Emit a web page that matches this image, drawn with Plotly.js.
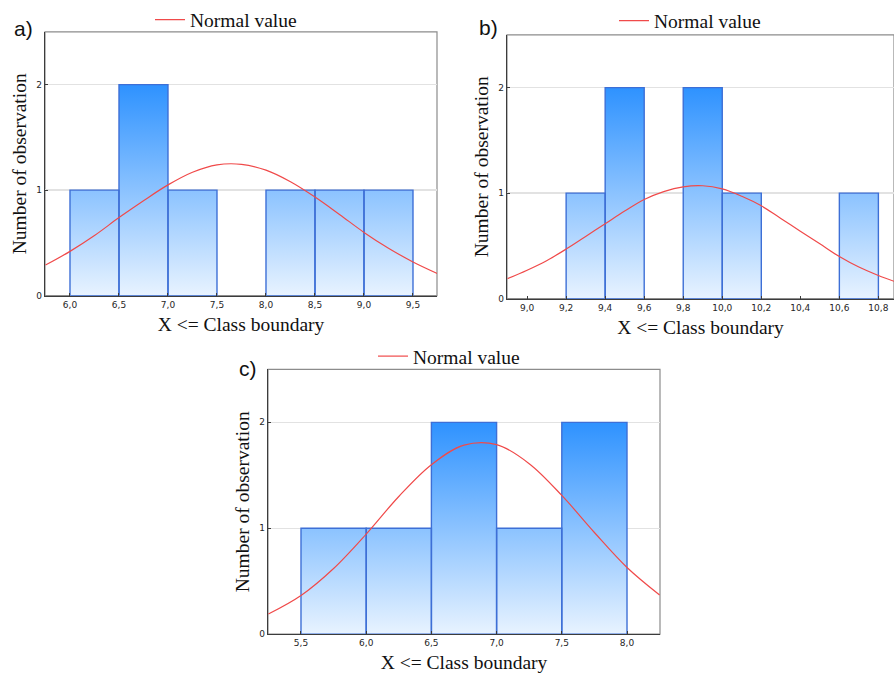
<!DOCTYPE html>
<html>
<head>
<meta charset="utf-8">
<script src="https://cdn.plot.ly/plotly-3.0.1.min.js"></script>
<style>html,body{margin:0;padding:0;background:#fff;}#chart{width:894px;height:679px;}</style>
</head>
<body>
<div id="chart"></div>
<script>
// ---- Data ----
const edgesA = [6.0, 6.5, 7.0, 7.5, 8.0, 8.5, 9.0, 9.5];
const countsA = [1, 2, 1, 0, 1, 1, 1];
const normXA = [5.75, 6.0, 6.25, 6.5, 6.75, 7.0, 7.25, 7.5, 7.75, 8.0, 8.25, 8.5, 8.75, 9.0, 9.25, 9.5, 9.75];
const normYA = [0.29, 0.42, 0.57, 0.74, 0.90, 1.05, 1.17, 1.24, 1.245, 1.19, 1.08, 0.935, 0.77, 0.60, 0.45, 0.32, 0.21];
const ticksA = [6.0, 6.5, 7.0, 7.5, 8.0, 8.5, 9.0, 9.5];
const tickTextA = ['6,0', '6,5', '7,0', '7,5', '8,0', '8,5', '9,0', '9,5'];

const edgesB = [9.2, 9.4, 9.6, 9.8, 10.0, 10.2, 10.4, 10.6, 10.8];
const countsB = [1, 2, 0, 2, 1, 0, 0, 1];
const normXB = [8.9, 9.0, 9.1, 9.2, 9.3, 9.4, 9.5, 9.6, 9.7, 9.8, 9.9, 10.0, 10.1, 10.2, 10.3, 10.4, 10.5, 10.6, 10.7, 10.8, 10.88];
const normYB = [0.19, 0.27, 0.36, 0.47, 0.59, 0.71, 0.83, 0.94, 1.015, 1.06, 1.07, 1.04, 0.97, 0.88, 0.76, 0.64, 0.52, 0.40, 0.30, 0.22, 0.165];
const ticksB = [9.0, 9.2, 9.4, 9.6, 9.8, 10.0, 10.2, 10.4, 10.6, 10.8];
const tickTextB = ['9,0', '9,2', '9,4', '9,6', '9,8', '10,0', '10,2', '10,4', '10,6', '10,8'];

const edgesC = [5.5, 6.0, 6.5, 7.0, 7.5, 8.0];
const countsC = [1, 1, 2, 1, 2];
const normXC = [5.25, 5.5, 5.75, 6.0, 6.25, 6.5, 6.75, 7.0, 7.25, 7.5, 7.75, 8.0, 8.25];
const normYC = [0.19, 0.365, 0.62, 0.945, 1.30, 1.60, 1.785, 1.79, 1.61, 1.31, 0.96, 0.63, 0.37];
const ticksC = [5.5, 6.0, 6.5, 7.0, 7.5, 8.0];
const tickTextC = ['5,5', '6,0', '6,5', '7,0', '7,5', '8,0'];

const yTicks = [0, 1, 2];
const legendName = 'Normal value';

// ---- Helpers ----
function barPolys(edges, counts) {
  const xs = [], ys = [];
  for (let i = 0; i < counts.length; i++) {
    if (counts[i] <= 0) continue;
    const l = edges[i], r = edges[i + 1], c = counts[i];
    xs.push(l, l, r, r, l, null);
    ys.push(0, c, c, 0, 0, null);
  }
  return {x: xs, y: ys};
}

const gradScale = [[0, 'rgb(232,243,255)'], [1, 'rgb(46,146,255)']];
const barLine = {color: '#3d6fd6', width: 1.4};
const curveLine = {color: '#f04a4a', width: 1.2, shape: 'spline'};

function barTrace(edges, counts, xa, ya) {
  const p = barPolys(edges, counts);
  return {
    type: 'scatter', mode: 'lines', x: p.x, y: p.y, xaxis: xa, yaxis: ya,
    fill: 'toself', line: barLine, hoverinfo: 'skip', showlegend: false,
    fillgradient: {type: 'vertical', colorscale: gradScale, start: 0, stop: 2}
  };
}
function curveTrace(xs, ys, xa, ya, leg) {
  return {
    type: 'scatter', mode: 'lines', x: xs, y: ys, xaxis: xa, yaxis: ya,
    line: curveLine, name: legendName, legend: leg, showlegend: true
  };
}

const data = [
  barTrace(edgesA, countsA, 'x', 'y'),
  curveTrace(normXA, normYA, 'x', 'y', 'legend'),
  barTrace(edgesB, countsB, 'x2', 'y2'),
  curveTrace(normXB, normYB, 'x2', 'y2', 'legend2'),
  barTrace(edgesC, countsC, 'x3', 'y3'),
  curveTrace(normXC, normYC, 'x3', 'y3', 'legend3')
];

const W = 894, H = 679;
const tickFont = {family: 'DejaVu Sans', size: 9, color: '#262626'};
const titleFont = {family: 'Liberation Serif', size: 19.5, color: '#111'};

function xAxis(dom, range, tv, tt, anchor) {
  return {
    domain: dom, range: range, anchor: anchor, tickvals: tv, ticktext: tt,
    showgrid: false, zeroline: false, showline: true, linecolor: '#3c3c3c', linewidth: 1.2,
    ticks: 'inside', ticklen: 3, tickcolor: '#3c3c3c', tickfont: tickFont,
    title: {text: 'X &lt;= Class boundary', font: titleFont, standoff: 8}
  };
}
function yAxis(dom, anchor) {
  return {
    domain: dom, range: [0, 2.5], anchor: anchor, tickvals: yTicks, ticktext: yTicks.map(String),
    showgrid: true, gridcolor: '#e2e2e2', gridwidth: 1.5, zeroline: false,
    showline: true, linecolor: '#3c3c3c', linewidth: 1.2,
    ticks: 'inside', ticklen: 3, tickcolor: '#3c3c3c', tickfont: tickFont,
    title: {text: 'Number of observation', font: titleFont, standoff: 4}
  };
}
function topAxis(base, range, tv) {
  return {overlaying: base, side: 'top', range: range, tickvals: tv, showticklabels: false,
    ticks: 'inside', ticklen: 3, tickcolor: '#555', showgrid: false, zeroline: false, showline: false};
}
function frame(xr, yr) {
  return {type: 'rect', xref: xr + ' domain', yref: yr + ' domain', x0: 0, x1: 1, y0: 0, y1: 1,
    line: {color: '#8c8c8c', width: 1.2}, layer: 'below'};
}
function legendAt(px, py) {
  return {x: px / W, y: 1 - py / H, xanchor: 'left', yanchor: 'middle', bgcolor: 'rgba(0,0,0,0)',
    font: {family: 'Liberation Serif', size: 19.5, color: '#111'}, itemwidth: 30};
}
function label(txt, px, py) {
  return {text: txt, xref: 'paper', yref: 'paper', x: px / W, y: 1 - py / H, xanchor: 'center', yanchor: 'middle',
    showarrow: false, font: {family: 'Liberation Sans', size: 21, color: '#111'}};
}

const rangeA = [5.745, 9.745], rangeB = [8.897, 10.88], rangeC = [5.247, 8.253];

const layout = {
  width: W, height: H, autosize: false,
  margin: {l: 0, r: 0, t: 0, b: 0},
  paper_bgcolor: '#fff', plot_bgcolor: '#fff',
  xaxis: xAxis([45 / W, 437 / W], rangeA, ticksA, tickTextA, 'y'),
  yaxis: yAxis([1 - 294 / H, 1 - 29 / H], 'x'),
  xaxis2: xAxis([507 / W, 1], rangeB, ticksB, tickTextB, 'y2'),
  yaxis2: yAxis([1 - 297 / H, 1 - 32 / H], 'x2'),
  xaxis3: xAxis([268 / W, 660 / W], rangeC, ticksC, tickTextC, 'y3'),
  yaxis3: yAxis([1 - 634 / H, 1 - 368 / H], 'x3'),
  xaxis4: Object.assign(topAxis('x', rangeA, ticksA), {anchor: 'y'}),
  xaxis5: Object.assign(topAxis('x2', rangeB, ticksB), {anchor: 'y2'}),
  xaxis6: Object.assign(topAxis('x3', rangeC, ticksC), {anchor: 'y3'}),
  shapes: [frame('x', 'y'), frame('x2', 'y2'), frame('x3', 'y3')],
  legend: legendAt(150, 17),
  legend2: legendAt(614, 18),
  legend3: legendAt(373, 355),
  annotations: [label('a)', 23, 26), label('b)', 488, 25), label('c)', 248, 367)],
  showlegend: true
};

Plotly.newPlot('chart', data, layout, {displayModeBar: false, staticPlot: true});
</script>
</body>
</html>
